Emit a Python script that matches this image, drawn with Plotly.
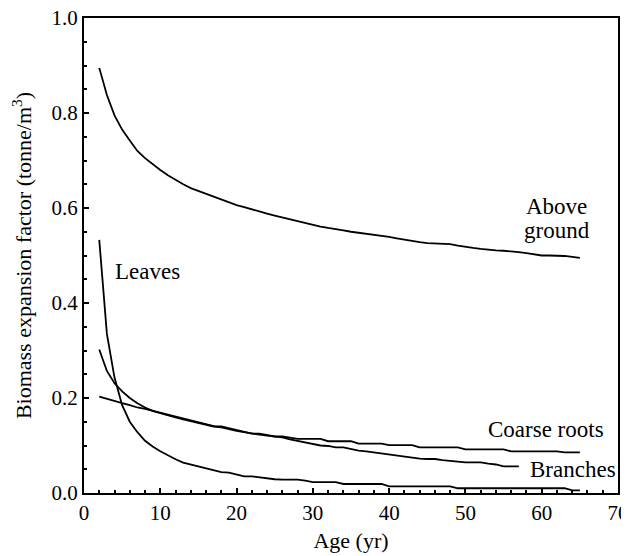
import plotly.graph_objects as go

# Age (yr)
age_above = list(range(2, 66))
above_ground = [0.895, 0.838, 0.795, 0.765, 0.742, 0.720, 0.705, 0.692, 0.680, 0.669,
                0.659, 0.650, 0.642, 0.636, 0.629, 0.624, 0.617, 0.611, 0.606, 0.602,
                0.597, 0.593, 0.588, 0.584, 0.580, 0.576, 0.572, 0.568, 0.564, 0.561,
                0.558, 0.556, 0.553, 0.550, 0.548, 0.545, 0.543, 0.541, 0.539, 0.536,
                0.533, 0.530, 0.528, 0.526, 0.525, 0.525, 0.524, 0.521, 0.518, 0.516,
                0.514, 0.512, 0.511, 0.510, 0.509, 0.507, 0.505, 0.502, 0.500, 0.500,
                0.500, 0.499, 0.497, 0.495]

age_leaves = list(range(2, 66))
leaves = [0.533, 0.335, 0.243, 0.185, 0.150, 0.128, 0.110, 0.098, 0.088, 0.079,
          0.071, 0.064, 0.060, 0.056, 0.052, 0.048, 0.044, 0.043, 0.039, 0.035,
          0.035, 0.033, 0.030, 0.029, 0.028, 0.028, 0.028, 0.026, 0.023, 0.023,
          0.023, 0.023, 0.019, 0.019, 0.019, 0.019, 0.019, 0.019, 0.014, 0.014,
          0.014, 0.014, 0.014, 0.014, 0.014, 0.014, 0.014, 0.010, 0.010, 0.010,
          0.010, 0.010, 0.010, 0.010, 0.010, 0.010, 0.010, 0.010, 0.010, 0.010,
          0.010, 0.010, 0.0055, 0.0055]

age_roots = list(range(2, 66))
coarse_roots = [0.203, 0.198, 0.194, 0.189, 0.185, 0.180, 0.177, 0.173, 0.169, 0.165,
                0.161, 0.157, 0.153, 0.149, 0.145, 0.141, 0.140, 0.136, 0.132, 0.129,
                0.125, 0.125, 0.122, 0.119, 0.119, 0.117, 0.114, 0.114, 0.114, 0.114,
                0.109, 0.109, 0.109, 0.109, 0.104, 0.104, 0.104, 0.104, 0.101, 0.101,
                0.101, 0.101, 0.096, 0.096, 0.096, 0.096, 0.096, 0.096, 0.092, 0.092,
                0.092, 0.092, 0.092, 0.092, 0.0876, 0.0876, 0.0876, 0.0876, 0.0876, 0.0876,
                0.0876, 0.0855, 0.0855, 0.0855]

age_branches = list(range(2, 58))
branches = [0.302, 0.257, 0.231, 0.214, 0.200, 0.189, 0.180, 0.173, 0.168, 0.163,
            0.159, 0.155, 0.151, 0.147, 0.143, 0.140, 0.138, 0.134, 0.131, 0.128,
            0.125, 0.123, 0.121, 0.119, 0.117, 0.113, 0.110, 0.107, 0.103, 0.100,
            0.099, 0.096, 0.096, 0.092, 0.089, 0.0876, 0.0855, 0.0834, 0.081, 0.079,
            0.076, 0.074, 0.0725, 0.0716, 0.0716, 0.069, 0.068, 0.066, 0.0644, 0.0644,
            0.0644, 0.062, 0.060, 0.056, 0.056, 0.056]

labels = ["Above", "ground", "Leaves", "Coarse roots", "Branches"]
label_x = [62.0, 62.0, 8.3, 60.5, 64.1]
label_y = [0.604, 0.553, 0.466, 0.133, 0.049]

FONT = "Liberation Serif"
line = dict(color="black", width=1.8)

fig = go.Figure()
for xs, ys, name in [(age_above, above_ground, "Above ground"),
                     (age_leaves, leaves, "Leaves"),
                     (age_roots, coarse_roots, "Coarse roots"),
                     (age_branches, branches, "Branches")]:
    fig.add_trace(go.Scatter(x=xs, y=ys, mode="lines", line=line, name=name,
                             showlegend=False))

for t, x, y in zip(labels, label_x, label_y):
    fig.add_annotation(x=x, y=y, text=t, showarrow=False,
                       font=dict(family=FONT, size=23, color="black"))

axis_common = dict(showgrid=False, zeroline=False, showline=True, linecolor="black",
                   linewidth=2, mirror=True, ticks="inside", tickcolor="black",
                   ticklen=5, tickwidth=1.5, automargin=False,
                   ticklabeloverflow="allow",
                   tickfont=dict(family=FONT, size=21, color="black"))

fig.update_xaxes(range=[0, 70], tickvals=[0, 10, 20, 30, 40, 50, 60, 70],
                 minor=dict(ticks="inside", dtick=2, tick0=0, ticklen=3,
                            tickcolor="black", tickwidth=1.5),
                 title=dict(text="Age (yr)", font=dict(family=FONT, size=22, color="black"),
                            standoff=8),
                 **axis_common)
fig.update_yaxes(range=[0, 1.0], tickvals=[0, 0.2, 0.4, 0.6, 0.8, 1.0], tickformat=".1f",
                 minor=dict(ticks="inside", dtick=0.05, tick0=0, ticklen=3,
                            tickcolor="black", tickwidth=1.5),
                 title=dict(text="Biomass expansion factor (tonne/m<sup>3</sup>)",
                            font=dict(family=FONT, size=22, color="black"), standoff=18),
                 **axis_common)

# page body has an 8px default margin, so the figure is offset by (8, 8)
fig.update_layout(width=621, height=548, plot_bgcolor="white", paper_bgcolor="white",
                  margin=dict(l=76, r=11, t=10, b=63),
                  font=dict(family=FONT, color="black"))

fig.write_html("out.html")
